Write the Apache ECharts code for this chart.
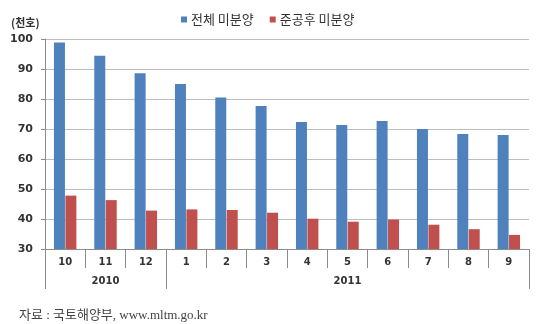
<!DOCTYPE html>
<html><head><meta charset="utf-8">
<script src="https://cdn.jsdelivr.net/npm/echarts@6/dist/echarts.min.js"></script>
<style>html,body{margin:0;padding:0;background:#fff}#c{width:550px;height:324px}</style>
</head><body><div id="c"></div>
<script>
const months = ['10','11','12','1','2','3','4','5','6','7','8','9'];
const years = ['2010','2011'];
const yearSpans = [3, 9];
const totalUnsold = [98.8,94.4,88.6,85.0,80.5,77.7,72.3,71.3,72.7,70.0,68.3,68.0];
const completedUnsold = [47.8,46.3,42.8,43.2,43.0,42.1,40.1,39.1,39.8,38.1,36.6,34.7];
const seriesNames = ['전체 미분양','준공후 미분양'];
const yMin = 30, yMax = 100, yStep = 10;
const unitLabel = '(천호)';
const sourceText = '자료 : 국토해양부, www.mltm.go.kr';

const bounds = [0]; yearSpans.forEach(s => bounds.push(bounds[bounds.length-1] + s));
const mids = yearSpans.map((s,i) => bounds[i] + s/2);

const axisGray = '#8c8c8c';
const chart = echarts.init(document.getElementById('c'));
chart.setOption({
  animation: false,
  backgroundColor: '#fff',
  title: [
    {text: unitLabel, left: 6, top: 12, textStyle:{fontSize:11, fontWeight:'bold', color:'#333', fontFamily:"'Noto Sans CJK KR'"}},
    {text: sourceText, left: 14, top: 304, textStyle:{fontSize:13, fontWeight:'normal', color:'#444', fontFamily:"'Liberation Serif','Noto Sans CJK KR'"}}
  ],
  legend: {
    left: 176, top: 8, itemWidth: 6, itemHeight: 6, itemGap: 16, icon: 'rect',
    textStyle: {fontSize: 13, color:'#333', fontFamily:"'Noto Sans CJK KR'", padding:[0,0,0,-1]},
    data: seriesNames
  },
  grid: {left: 45, right: 21, top: 39, bottom: 75, containLabel: false},
  xAxis: [
    {type:'category', data: months, boundaryGap: true,
     axisLine:{show:true, lineStyle:{color:axisGray}},
     axisTick:{show:true, interval:0, length:19, alignWithLabel:false, lineStyle:{color:axisGray}},
     axisLabel:{interval:0, fontSize:10, fontWeight:'bold', color:'#333', margin:8, fontFamily:"'DejaVu Sans'"}},
    {type:'value', min: 0, max: bounds[bounds.length-1], position:'bottom', offset: 19,
     axisLine:{show:false},
     splitLine:{show:false},
     axisTick:{show:true, customValues: bounds, length:21, lineStyle:{color:axisGray}},
     axisLabel:{customValues: mids, fontSize:10, fontWeight:'bold', color:'#333', margin:8, fontFamily:"'DejaVu Sans'",
       formatter: v => years[mids.indexOf(v)]}}
  ],
  yAxis: {type:'value', min:yMin, max:yMax, interval:yStep,
    axisLine:{show:true, lineStyle:{color:axisGray}},
    axisTick:{show:true, length:4, lineStyle:{color:axisGray}},
    axisLabel:{fontSize:11, fontWeight:'bold', color:'#333', margin:12, fontFamily:"'DejaVu Sans'"},
    splitLine:{lineStyle:{color:'#bdbdbd'}}},
  series: [
    {name: seriesNames[0], type:'bar', xAxisIndex:0, data: totalUnsold, barWidth: 11, barGap: '4%', itemStyle:{color:'#4F81BD'}},
    {name: seriesNames[1], type:'bar', xAxisIndex:0, data: completedUnsold, barWidth: 11, itemStyle:{color:'#C0504D'}}
  ]
});
</script></body></html>
